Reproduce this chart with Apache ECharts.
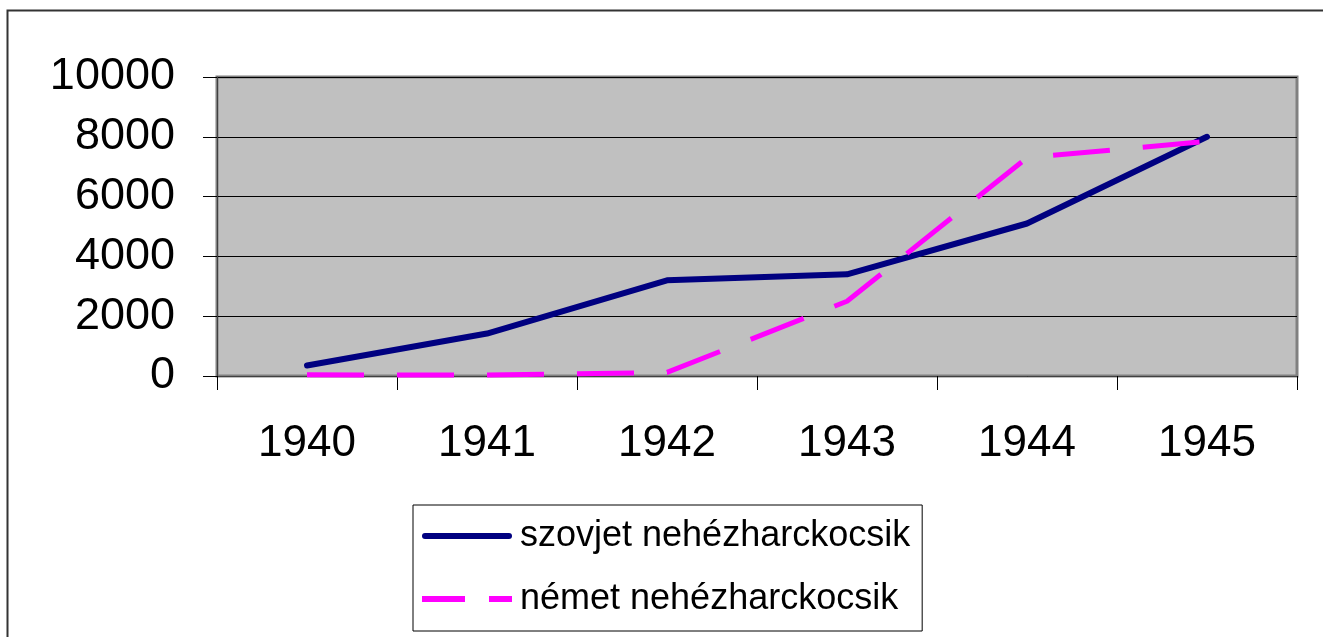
<!DOCTYPE html>
<html>
<head>
<meta charset="utf-8">
<script src="https://cdn.jsdelivr.net/npm/echarts@6/dist/echarts.min.js"></script>
<style>
  html, body { margin: 0; padding: 0; background: #fff; }
  #chart { width: 1323px; height: 637px; }
</style>
</head>
<body>
<div id="chart"></div>
<script>
// adatok
const years = ['1940', '1941', '1942', '1943', '1944', '1945'];
const szovjet = [350, 1420, 3200, 3400, 5100, 8000];
const nemet = [40, 30, 120, 2500, 7300, 7850];
const seriesNames = ['szovjet nehézharckocsik', 'német nehézharckocsik'];

const myChart = echarts.init(document.getElementById('chart'));

const option = {
  backgroundColor: '#fff',
  animation: false,
  graphic: [{
    type: 'rect',
    shape: { x: 7.5, y: 10.5, width: 1330, height: 640 },
    style: { fill: 'none', stroke: '#333', lineWidth: 2 },
    silent: true
  }],
  grid: {
    left: 217,
    top: 77,
    right: 26,
    bottom: 261,
    show: true,
    backgroundColor: '#c0c0c0',
    borderColor: '#808080',
    borderWidth: 3
  },
  legend: {
    orient: 'vertical',
    left: 413,
    top: 505,
    padding: [9, 12, 10, 9],
    borderColor: '#000',
    borderWidth: 1,
    backgroundColor: '#fff',
    itemWidth: 90,
    itemHeight: 6,
    itemGap: 19,
    textStyle: {
      fontFamily: '"Liberation Sans", Arial, sans-serif',
      fontSize: 36,
      lineHeight: 44,
      color: '#000',
      padding: [0, 0, 0, 3]
    },
    data: [
      { name: seriesNames[0], icon: 'path://M3,0h84a3,3 0 0 1 0,6h-84a3,3 0 0 1 0,-6z' },
      { name: seriesNames[1], icon: 'path://M0,0h43v6h-43z M67,0h23v6h-23z' }
    ]
  },
  xAxis: {
    type: 'category',
    data: years,
    boundaryGap: true,
    axisLine: { lineStyle: { color: '#404040', width: 1 } },
    axisTick: { show: true, length: 14, lineStyle: { color: '#000' } },
    axisLabel: {
      margin: 46,
      color: '#000',
      fontSize: 44,
      fontFamily: '"Liberation Sans", Arial, sans-serif'
    },
    splitLine: { show: false }
  },
  yAxis: {
    type: 'value',
    min: 0,
    max: 10000,
    interval: 2000,
    axisLine: { show: true, lineStyle: { color: '#404040', width: 1 } },
    axisTick: { show: true, length: 14, lineStyle: { color: '#000' } },
    axisLabel: {
      margin: 42,
      color: '#000',
      fontSize: 45,
      fontFamily: '"Liberation Sans", Arial, sans-serif',
      formatter: function (v) { return String(v); }
    },
    splitLine: { show: true, lineStyle: { color: '#000', width: 1 } }
  },
  series: [
    {
      name: seriesNames[0],
      type: 'line',
      data: szovjet,
      symbol: 'none',
      color: '#000080',
      lineStyle: { color: '#000080', width: 6, cap: 'round', join: 'round' }
    },
    {
      name: seriesNames[1],
      type: 'line',
      data: nemet,
      symbol: 'none',
      color: '#ff00ff',
      lineStyle: { color: '#ff00ff', width: 5, type: [57, 33], cap: 'butt' }
    }
  ]
};

myChart.setOption(option);
window.onresize = myChart.resize;
</script>
</body>
</html>
